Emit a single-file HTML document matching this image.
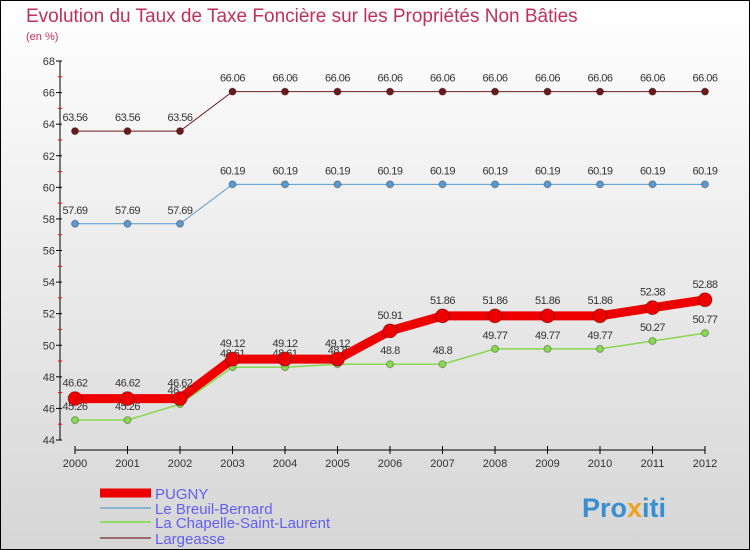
<!DOCTYPE html>
<html><head><meta charset="utf-8"><style>
body{margin:0}
svg{display:block;font-family:"Liberation Sans",sans-serif}
</style></head><body>
<svg id="c" width="750" height="550">
<defs><linearGradient id="bg" x1="0" y1="0" x2="0" y2="1"><stop offset="0" stop-color="#ffffff"/><stop offset="1" stop-color="#d6d6d6"/></linearGradient></defs>
<rect x="0.5" y="0.5" width="749" height="549" fill="url(#bg)" stroke="#000"/>
<text x="26" y="22" font-size="19" fill="#c0305a">Evolution du Taux de Taxe Foncière sur les Propriétés Non Bâties</text>
<text x="26" y="40" font-size="11" fill="#c0305a">(en %)</text>
<g id="axes"></g><g id="series"></g><g id="legend"></g>
<text x="582" y="517" font-size="27" font-weight="bold" fill="#3a8fd0">Pro<tspan fill="#f0a020">x</tspan>iti</text>
</svg>
<script>
const years=[2000,2001,2002,2003,2004,2005,2006,2007,2008,2009,2010,2011,2012];
const yTicks=[44,46,48,50,52,54,56,58,60,62,64,66,68];
const pugny=[46.62,46.62,46.62,49.12,49.12,49.12,50.91,51.86,51.86,51.86,51.86,52.38,52.88];
const breuil=[57.69,57.69,57.69,60.19,60.19,60.19,60.19,60.19,60.19,60.19,60.19,60.19,60.19];
const chapelle=[45.26,45.26,46.27,48.61,48.61,48.8,48.8,48.8,49.77,49.77,49.77,50.27,50.77];
const largeasse=[63.56,63.56,63.56,66.06,66.06,66.06,66.06,66.06,66.06,66.06,66.06,66.06,66.06];
const NS="http://www.w3.org/2000/svg";
function X(i){return 75+i*52.5;}
function Y(v){return 440-(v-44)*(379/24);}
function mk(p,t,a){const e=document.createElementNS(NS,t);for(const k in a)e.setAttribute(k,a[k]);p.appendChild(e);return e;}
const ax=document.getElementById('axes');
let l=mk(ax,'line',{x1:60,y1:61,x2:60,y2:440,stroke:'#000'});


yTicks.forEach(v=>{mk(ax,'line',{x1:56,y1:Y(v),x2:62,y2:Y(v),stroke:'#000'});
mk(ax,'line',{x1:58,y1:Y(v+1),x2:62,y2:Y(v+1),stroke:v<68?'#f00':'none'});
const t=mk(ax,'text',{x:55,y:Y(v)+4,'font-size':11,'text-anchor':'end',fill:'#333'});t.textContent=v;

});
l=mk(ax,'line',{x1:75,y1:450,x2:705,y2:450,stroke:'#000'});


years.forEach((y,i)=>{mk(ax,'line',{x1:X(i),y1:446,x2:X(i),y2:454,stroke:'#000'});
const t=mk(ax,'text',{x:X(i),y:467,'font-size':11,'text-anchor':'middle',fill:'#333'});t.textContent=y;

});
const sg=document.getElementById('series');
function series(d,col,w,r,name,dy){const g=mk(sg,'g',{});


mk(g,'polyline',{points:d.map((v,i)=>X(i)+','+Y(v)).join(' '),fill:'none',stroke:col,'stroke-width':w});
d.forEach((v,i)=>{const c=mk(g,'circle',{cx:X(i),cy:Y(v),r:r,fill:col,stroke:'rgba(0,0,0,0.3)'});


const t=mk(g,'text',{x:X(i),y:Y(v)+dy,'font-size':11,'text-anchor':'middle',fill:'#333','letter-spacing':'-0.5'});t.textContent=v;});}
series(largeasse,'#6b1a1a',1,3.5,'largeasse-series',-10);
series(breuil,'#5a9ad0',1,3.5,'breuil-series',-10);
series(chapelle,'#88d850',1.5,3.5,'chapelle-series',-10);
series(pugny,'#ee0000',9,7,'pugny-series',-12);
const lg=document.getElementById('legend');
[['PUGNY','#ee0000',9,493],['Le Breuil-Bernard','#8ab4d0',2,508],['La Chapelle-Saint-Laurent','#90dc60',2,522],['Largeasse','#9a6a6a',2,538]].forEach(a=>{
const g=mk(lg,'g',{});


mk(g,'line',{x1:100,y1:a[3],x2:151,y2:a[3],stroke:a[1],'stroke-width':a[2]});
const t=mk(g,'text',{x:155,y:a[3]+6,'font-size':15,fill:'#6060f0'});t.textContent=a[0];});
</script>
</body></html>
